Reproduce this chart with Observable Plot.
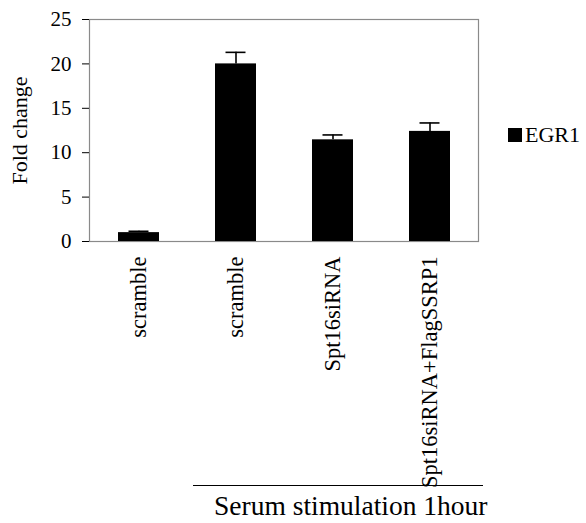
<!DOCTYPE html>
<html>
<head>
<meta charset="utf-8">
<script src="https://cdn.jsdelivr.net/npm/d3@7"></script>
<script src="https://cdn.jsdelivr.net/npm/@observablehq/plot@0.6"></script>
<style>
  body { margin: 0; background: #fff; }
  #chart { position: relative; width: 586px; height: 523px; font-family: "Liberation Serif", "Times New Roman", serif; color: #000; }
  #chart svg, #chart svg text { font-family: "Liberation Serif", "Times New Roman", serif !important; }
  .swatch { position: absolute; left: 508px; top: 128px; width: 14px; height: 14px; background: #000; }
  .legend-text { position: absolute; left: 525px; top: 123.6px; font-size: 22px; line-height: 1; }
  .group-rule { position: absolute; left: 193px; top: 485px; width: 290px; height: 0; border-top: 1.8px solid #000; }
  .group-label { position: absolute; left: 214px; top: 492px; font-size: 27.5px; line-height: 1; white-space: nowrap; }
</style>
</head>
<body>
<div id="chart"></div>
<script>
// Conditions (ids keep the two "scramble" bars apart), their labels and EGR1 fold change ± SD
const conditions = ["c1", "c2", "c3", "c4"];
const conditionLabels = ["scramble", "scramble", "Spt16siRNA", "Spt16siRNA+FlagSSRP1"];
const foldChange = [1.0, 20.0, 11.45, 12.4];
const errorSD = [0.15, 1.3, 0.55, 0.95];
const yTicks = [0, 5, 10, 15, 20, 25];
const seriesName = "EGR1";
const groupLabel = "Serum stimulation 1hour";

const rows = conditions.map((c, i) => ({
  id: c,
  label: conditionLabels[i],
  value: foldChange[i],
  top: foldChange[i] + errorSD[i]
}));
const labelOf = new Map(rows.map(d => [d.id, d.label]));

const plot = Plot.plot({
  width: 586,
  height: 523,
  marginLeft: 89,
  marginRight: 108,
  marginTop: 19,
  marginBottom: 282,
  style: { color: "#000", background: "#fff", fontSize: "22px" },
  x: { domain: conditions, paddingInner: 0.58, paddingOuter: 0.29 },
  y: { domain: [0, 25] },
  marks: [
    Plot.frame({ stroke: "#8a8a8a", strokeWidth: 1.2 }),
    Plot.ruleX(rows, { x: "id", y1: "value", y2: "top", stroke: "#000", strokeWidth: 1.6 }),
    Plot.tickY(rows, { x: "id", y: "top", stroke: "#000", strokeWidth: 1.6, insetLeft: 10.5, insetRight: 10.5 }),
    Plot.barY(rows, { x: "id", y: "value", fill: "#000" }),
    Plot.ruleX([0], { stroke: "#000", strokeWidth: 1.2 }),
    Plot.axisY({
      ticks: yTicks,
      tickSize: 7,
      tickPadding: 11,
      fontSize: 21,
      label: null
    }),
    Plot.axisY({
      ticks: [],
      tickSize: 0,
      fontSize: 22,
      label: "Fold change",
      labelAnchor: "center",
      labelOffset: 78,
      labelArrow: "none"
    }),
    Plot.axisX({
      tickSize: 0,
      tickPadding: 15,
      tickRotate: -90,
      fontSize: 22.5,
      tickFormat: d => labelOf.get(d),
      label: null
    })
  ]
});

const chart = document.getElementById("chart");
chart.appendChild(plot);

const swatch = document.createElement("div");
swatch.className = "swatch";
chart.appendChild(swatch);

const legendText = document.createElement("div");
legendText.className = "legend-text";
legendText.textContent = seriesName;
chart.appendChild(legendText);

const rule = document.createElement("div");
rule.className = "group-rule";
chart.appendChild(rule);

const gl = document.createElement("div");
gl.className = "group-label";
gl.textContent = groupLabel;
chart.appendChild(gl);
</script>
</body>
</html>
